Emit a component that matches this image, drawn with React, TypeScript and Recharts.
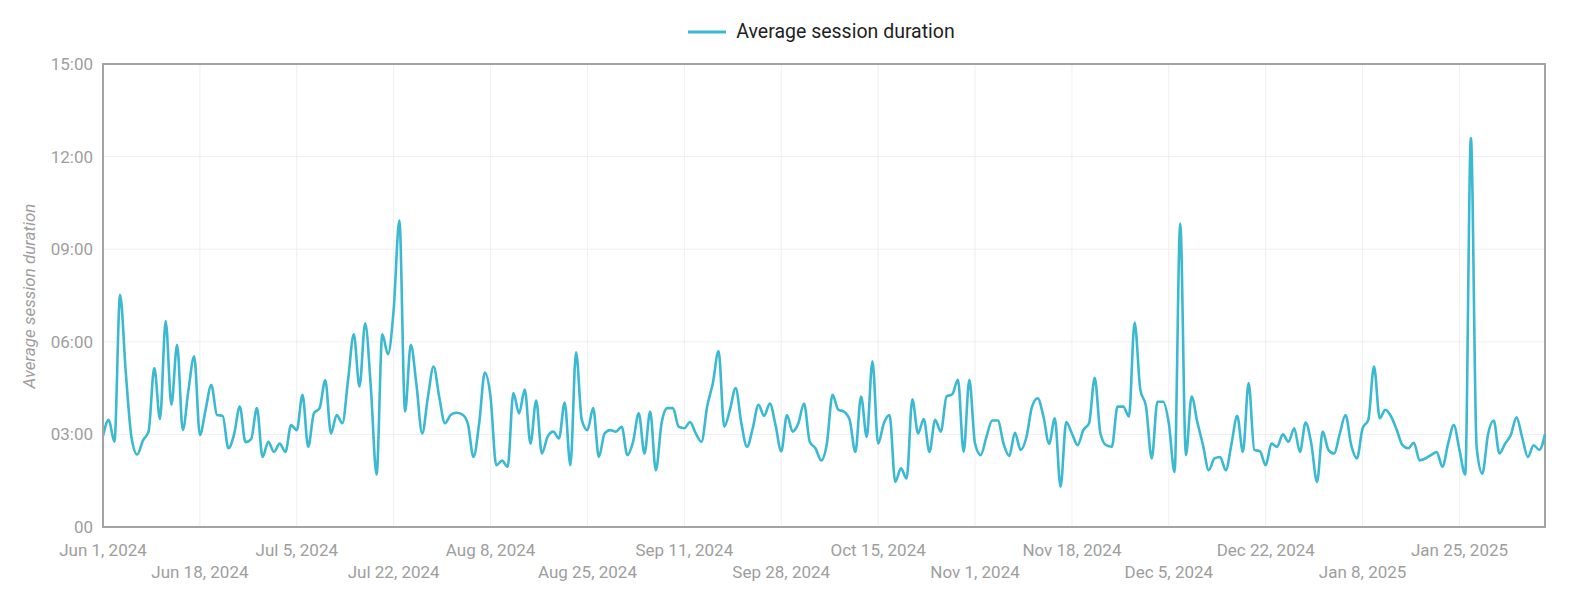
import React from "react"
import {
    LineChart,
    Line,
    XAxis,
    YAxis,
    CartesianGrid,
    Legend,
    ReferenceArea,
} from "recharts"

// average session duration per day, in minutes (Jun 1, 2024 -> Feb 9, 2025)
const avgSessionMinutes = [
    2.95, 3.47, 2.76, 7.52, 5.0, 2.9, 2.35, 2.8, 3.1, 5.15,
    3.5, 6.67, 3.96, 5.9, 3.14, 4.45, 5.53, 2.98, 3.8, 4.6,
    3.63, 3.6, 2.55, 3.0, 3.9, 2.75, 2.85, 3.85, 2.27, 2.76,
    2.43, 2.7, 2.43, 3.3, 3.14, 4.28, 2.6, 3.68, 3.85, 4.75,
    3.03, 3.63, 3.36, 4.77, 6.24, 4.55, 6.6, 4.5, 1.7, 6.24,
    5.6, 7.05, 9.93, 3.74, 5.9, 4.6, 3.03, 4.2, 5.2, 4.2,
    3.36, 3.63, 3.7, 3.65, 3.36, 2.27, 3.36, 5.0, 4.2, 2.0,
    2.15, 1.95, 4.34, 3.68, 4.45, 2.7, 4.1, 2.38, 2.92, 3.09,
    2.87, 4.03, 2.0, 5.66, 3.47, 3.14, 3.85, 2.27, 3.03, 3.14,
    3.09, 3.25, 2.33, 2.76, 3.68, 2.38, 3.74, 1.84, 3.36, 3.85,
    3.85, 3.25, 3.2, 3.4, 3.03, 2.76, 3.9, 4.66, 5.7, 3.25,
    3.8, 4.5, 3.36, 2.6, 3.2, 3.96, 3.6, 4.0, 3.3, 2.45,
    3.63, 3.09, 3.36, 4.0, 2.76, 2.55, 2.16, 2.7, 4.28, 3.8,
    3.74, 3.47, 2.43, 4.23, 2.92, 5.37, 2.7, 3.36, 3.63, 1.46,
    1.9, 1.57, 4.14, 3.03, 3.5, 2.43, 3.47, 3.09, 4.23, 4.3,
    4.77, 2.43, 4.77, 2.7, 2.33, 2.92, 3.45, 3.45, 2.7, 2.3,
    3.05, 2.5, 2.9, 3.9, 4.17, 3.58, 2.7, 3.52, 1.3, 3.4,
    3.03, 2.65, 3.14, 3.36, 4.83, 3.03, 2.65, 2.6, 3.9, 3.9,
    3.58, 6.62, 4.45, 3.9, 2.22, 4.06, 4.06, 3.36, 1.78, 9.83,
    2.33, 4.23, 3.4, 2.65, 1.84, 2.22, 2.27, 1.84, 2.7, 3.6,
    2.43, 4.66, 2.5, 2.45, 2.0, 2.7, 2.6, 3.0, 2.76, 3.2,
    2.43, 3.38, 2.7, 1.46, 3.09, 2.5, 2.38, 3.03, 3.63, 2.65,
    2.22, 3.2, 3.47, 5.2, 3.52, 3.8, 3.58, 3.14, 2.65, 2.55,
    2.73, 2.16, 2.22, 2.33, 2.43, 1.95, 2.7, 3.3, 2.49, 1.7,
    12.6, 2.6, 1.73, 3.0, 3.45, 2.38, 2.7, 2.98, 3.55, 2.9,
    2.27, 2.65, 2.5, 3.0,
]

const tickLabels = [
    "Jun 1, 2024", "Jun 18, 2024", "Jul 5, 2024", "Jul 22, 2024", "Aug 8, 2024",
    "Aug 25, 2024", "Sep 11, 2024", "Sep 28, 2024", "Oct 15, 2024", "Nov 1, 2024",
    "Nov 18, 2024", "Dec 5, 2024", "Dec 22, 2024", "Jan 8, 2025", "Jan 25, 2025",
]

const yTicks = [0, 3, 6, 9, 12, 15]

const MONTHS = ["Jan", "Feb", "Mar", "Apr", "May", "Jun", "Jul", "Aug", "Sep", "Oct", "Nov", "Dec"]
const START = Date.UTC(2024, 5, 1)

const dates = avgSessionMinutes.map((_, i) => {
    const d = new Date(START + i * 86400000)
    return `${MONTHS[d.getUTCMonth()]} ${d.getUTCDate()}, ${d.getUTCFullYear()}`
})

const data = dates.map((date, i) => ({ date, value: avgSessionMinutes[i] }))

const LINE_COLOR = "#3bb9d1"
const AXIS_TEXT = "#9e9e9e"
const BORDER = "#a3a3a3"
const FONT = "Roboto, 'Noto Sans', sans-serif"

const fmtMinutes = (v: number) => (v === 0 ? "00" : `${String(v).padStart(2, "0")}:00`)

function DateTick({ x, y, payload }: any) {
    const row = tickLabels.indexOf(payload.value) % 2
    return (
        <text
            x={x}
            y={y + (row ? 49 : 27)}
            textAnchor="middle"
            fill={AXIS_TEXT}
            fontSize={17}
            fontFamily={FONT}
        >
            {payload.value}
        </text>
    )
}

function LegendBox() {
    return (
        <div
            style={{
                position: "absolute",
                top: 20,
                left: 103,
                width: 1437,
                display: "flex",
                justifyContent: "center",
                alignItems: "center",
            }}
        >
            <svg width={38} height={6}>
                <line x1={0} y1={3} x2={38} y2={3} stroke={LINE_COLOR} strokeWidth={3} />
            </svg>
            <span style={{ marginLeft: 10, fontSize: 19.5, color: "#222", fontFamily: FONT }}>
                Average session duration
            </span>
        </div>
    )
}

export default function App() {
    return (
        <div style={{ position: "absolute", left: 0, top: 0, background: "#fff" }}>
            <LineChart
                width={1576}
                height={597}
                data={data}
                margin={{ top: 64, right: 31, bottom: 0, left: 0 }}
            >
                <CartesianGrid stroke="#efefef" strokeWidth={1} />
                <Legend
                    verticalAlign="top"
                    wrapperStyle={{ top: 0, left: 0, width: 1576, height: 0, overflow: "visible" }}
                    content={() => <LegendBox />}
                />
                <XAxis
                    dataKey="date"
                    ticks={tickLabels}
                    interval={0}
                    height={70}
                    tickLine={false}
                    tickSize={0}
                    tick={<DateTick />}
                    axisLine={{ stroke: BORDER, strokeWidth: 2 }}
                />
                <YAxis
                    domain={[0, 15]}
                    ticks={yTicks}
                    width={103}
                    tickLine={false}
                    tickSize={0}
                    tickMargin={10}
                    tickFormatter={fmtMinutes}
                    tick={{ fill: AXIS_TEXT, fontSize: 17, fontFamily: FONT }}
                    axisLine={{ stroke: BORDER, strokeWidth: 2 }}
                    label={() => (
                        <text
                            x={31}
                            y={296}
                            transform="rotate(-90 31 296)"
                            textAnchor="middle"
                            dominantBaseline="middle"
                            fill={AXIS_TEXT}
                            fontSize={17}
                            fontStyle="italic"
                            fontFamily={FONT}
                        >
                            Average session duration
                        </text>
                    )}
                />
                <ReferenceArea
                    x1={dates[0]}
                    x2={dates[dates.length - 1]}
                    y1={0}
                    y2={15}
                    fill="none"
                    fillOpacity={0}
                    stroke={BORDER}
                    strokeWidth={2}
                    ifOverflow="visible"
                />
                <Line
                    type="monotone"
                    dataKey="value"
                    stroke={LINE_COLOR}
                    strokeWidth={2.6}
                    dot={false}
                    activeDot={false}
                    isAnimationActive={false}
                />
            </LineChart>
        </div>
    )
}
